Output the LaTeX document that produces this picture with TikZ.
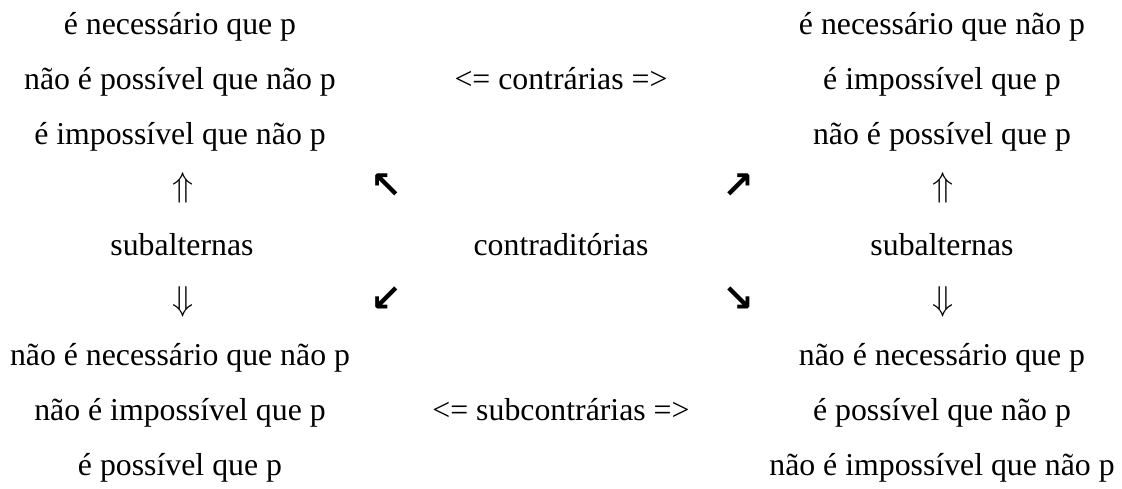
\documentclass[tikz,border=0pt]{standalone}
\usepackage{fontspec}
\setmainfont{Liberation Serif}
\newfontfamily\arrowfont{DejaVu Sans}
\newcommand{\bigup}{\resizebox{!}{24pt}{$\Uparrow$}}
\newcommand{\bigdown}{\resizebox{!}{24pt}{$\Downarrow$}}
\begin{document}
\begin{tikzpicture}[x=1pt,y=-1pt,
  lbl/.style={inner sep=0pt,anchor=base,font=\fontsize{31.8}{38}\selectfont},
  dbl/.style={inner sep=0pt,anchor=center},
  diag/.style={inner sep=0pt,anchor=center,font=\fontsize{38}{40}\arrowfont\bfseries}]
\useasboundingbox (0,0) rectangle (1122,489);
% left column
\node[lbl] (l1) at (180,35) {é necessário que p};
\node[lbl] (l2) at (180,90) {não é possível que não p};
\node[lbl] (l3) at (180,145) {é impossível que não p};
\node[dbl] (lu) at (183,188) {\bigup};
\node[lbl] (ls) at (182,255) {subalternas};
\node[dbl] (ld) at (183,302) {\bigdown};
\node[lbl] (l4) at (180,365) {não é necessário que não p};
\node[lbl] (l5) at (180,420) {não é impossível que p};
\node[lbl] (l6) at (180,475) {é possível que p};
% right column
\node[lbl] (r1) at (942,35) {é necessário que não p};
\node[lbl] (r2) at (942,90) {é impossível que p};
\node[lbl] (r3) at (942,145) {não é possível que p};
\node[dbl] (ru) at (943,188) {\bigup};
\node[lbl] (rs) at (942,255) {subalternas};
\node[dbl] (rd) at (943,302) {\bigdown};
\node[lbl] (r4) at (942,365) {não é necessário que p};
\node[lbl] (r5) at (942,420) {é possível que não p};
\node[lbl] (r6) at (942,475) {não é impossível que não p};
% middle
\node[lbl] (mc) at (561,90) {<= contrárias =>};
\node[lbl] (md) at (561,255) {contraditórias};
\node[lbl] (ms) at (561,420) {<= subcontrárias =>};
% diagonal arrows
\node[diag] (a1) at (386,186) {↖};
\node[diag] (a2) at (738,186) {↗};
\node[diag] (a3) at (386,299) {↙};
\node[diag] (a4) at (738,299) {↘};
\end{tikzpicture}
\end{document}
